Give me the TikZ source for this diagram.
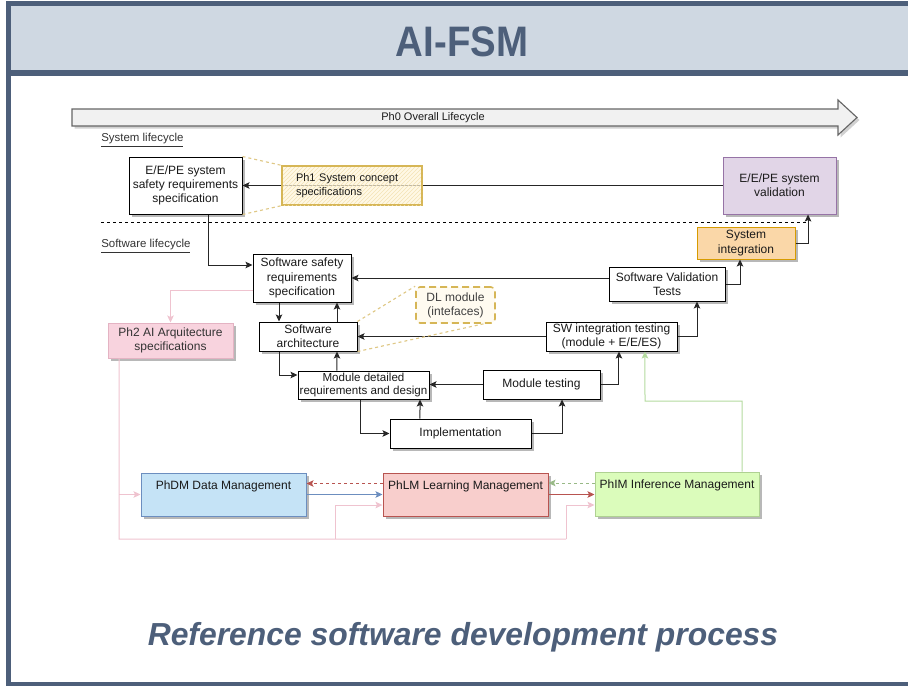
\documentclass[tikz,border=0pt]{standalone}
\usepackage{fontspec}
\usepackage{graphicx}
\setmainfont{Liberation Sans}
\usetikzlibrary{arrows.meta,shadows,patterns,calc}

\newlength\pxu
\setlength\pxu{0.75pt}

\definecolor{slate}{HTML}{4D5F7A}
\definecolor{headfill}{HTML}{CFD8E2}
\definecolor{txt}{HTML}{1A1A1A}
\definecolor{conncol}{HTML}{262626}
\definecolor{sketch}{HTML}{D6B656}
\definecolor{sketchfill}{HTML}{FFF5DA}
\definecolor{sketchhatch}{HTML}{F3E3B5}
\definecolor{guide}{HTML}{DFC886}
\definecolor{valfill}{HTML}{E1D5E7}
\definecolor{valdraw}{HTML}{9673A6}
\definecolor{intfill}{HTML}{FAD7A8}
\definecolor{intdraw}{HTML}{D79B00}
\definecolor{ph2fill}{HTML}{F8D3DE}
\definecolor{ph2draw}{HTML}{E4B3C3}
\definecolor{pinkline}{HTML}{EFC3CF}
\definecolor{dmfill}{HTML}{C5E3F6}
\definecolor{dmdraw}{HTML}{6C8EBF}
\definecolor{lmfill}{HTML}{F8CECC}
\definecolor{lmdraw}{HTML}{B85450}
\definecolor{imfill}{HTML}{DBFCBB}
\definecolor{imdraw}{HTML}{AFD192}
\definecolor{greenline}{HTML}{B3DA9E}
\definecolor{arrowfill}{HTML}{F1F1F1}
\definecolor{arrowdraw}{HTML}{666666}

\newcommand\boxfont{\fontsize{9}{10.6}\selectfont}
\newcommand\smallfont{\fontsize{8.25}{10.4}\selectfont}

\tikzset{
  shadowed/.style={drop shadow={shadow xshift=1.9pt, shadow yshift=-1.9pt, opacity=0.28, fill=black}},
  wh/.style 2 args={minimum width=#1\pxu, minimum height=#2\pxu},
  box/.style={draw=black, fill=white, line width=0.75pt, inner sep=0pt,
    align=center, font=\boxfont, text=txt, shadowed},
  topbox/.style={box, text height=6pt, text depth=14.25pt},
  conn/.style={draw=conncol, line width=0.75pt,
    -{Stealth[length=5.25pt, width=4.9pt, inset=1.1pt]}},
  pinkconn/.style={conn, draw=pinkline},
  sketchbox/.style={draw=sketch, line width=1.05pt, fill=sketchfill, fill opacity=0.7,
    text opacity=1, inner sep=0pt, font=\smallfont, text=txt,
    postaction={pattern=north east lines, pattern color=sketchhatch}},
  dlbox/.style={draw=sketch, line width=1.2pt, dash pattern=on 5.25pt off 3pt,
    rounded corners=3pt, fill=sketchfill!40, inner sep=0pt, align=center,
    font=\boxfont, text=black!75},
  guideline/.style={draw=guide, line width=0.85pt, dash pattern=on 2.25pt off 2.25pt},
  lifelabel/.style={anchor=west, inner sep=0pt, font=\fontsize{8.6}{10}\selectfont, text=black!80}
}

\begin{document}
\begin{tikzpicture}[x=0.75pt, y=-0.75pt]
\useasboundingbox (0,0) rectangle (908,686);

% slide frame and title band
\begin{scope}
  \clip (0,0) rectangle (908,686);
  \fill[headfill] (8.5,3.5) rectangle (930,73);
  \draw[slate, line width=3.75pt] (8.5,3.5) rectangle (930,684.5);
  \draw[slate, line width=4.1pt] (8.5,73) -- (930,73);
\end{scope}
\node[font=\bfseries\fontsize{32}{32}\selectfont, text=slate, inner sep=0pt] (title) at (462,42)
  {\scalebox{0.9}[1]{AI-FSM}};
\node[font=\bfseries\itshape\fontsize{23.9}{24}\selectfont, text=slate, inner sep=0pt] (caption) at (463,637)
  {Reference software development process};

% overall lifecycle arrow
\fill[black, opacity=0.18] (74.5,111.5) -- (840.5,111.5) -- (840.5,102.5) -- (859.5,120) -- (840.5,137.5) -- (840.5,128.5) -- (74.5,128.5) -- cycle;
\draw[draw=arrowdraw, fill=arrowfill, line width=0.85pt]
  (72,109) -- (838,109) -- (838,100) -- (857,117.5) -- (838,135) -- (838,126) -- (72,126) -- cycle;
\node[font=\smallfont, text=txt, inner sep=0pt] (ph0) at (433,117.5) {Ph0 Overall Lifecycle};

% lifecycle labels and separator
\node[lifelabel] (syslife) at (101,140) {\underline{System lifecycle}};
\node[lifelabel] (swlife) at (101,246) {\underline{Software lifecycle}};
\coordinate (sepl) at (101,222);
\coordinate (sepr) at (808,222);
\draw[black, line width=0.75pt, dash pattern=on 2.6pt off 1.9pt] (sepl) -- (sepr);

% system level boxes
\node[box, wh={113}{57}] (sysreq) at (185.5,185.5) {E/E/PE system\\safety requirements\\specification};
\node[box, wh={113}{57}, fill=valfill, draw=valdraw] (sysval) at (779.5,185.5) {E/E/PE system\\validation};
\node[box, wh={98}{32}, fill=intfill, draw=intdraw] (sysint) at (746,243) {System\\integration};

% software V-model boxes
\node[box, wh={116}{34}] (svt) at (667,284) {Software Validation\\Tests};
\node[box, wh={98}{48}] (ssr) at (302,278) {Software safety\\requirements\\specification};
\node[box, wh={98}{29}] (sa) at (308,336.5) {Software\\architecture};
\node[box, wh={131}{29}] (swit) at (611.5,336.5) {SW integration testing\\(module + E/E/ES)};
\node[box, wh={131}{28}, font=\fontsize{8.7}{10.4}\selectfont] (mdrd) at (363.5,385) {Module detailed\\requirements and design};
\node[box, wh={117}{29}] (mt) at (541.5,384.5) {Module testing};
\node[box, wh={141}{29}] (impl) at (460.5,433.5) {Implementation};

% AI phase boxes
\node[box, wh={125}{35}, fill=ph2fill, draw=ph2draw, text=black!80] (ph2) at (170.5,340.5) {Ph2 AI Arquitecture\\specifications};
\node[topbox, wh={165}{43}, fill=dmfill, draw=dmdraw] (phdm) at (223.5,494.5) {PhDM Data Management};
\node[topbox, wh={165}{43}, fill=lmfill, draw=lmdraw] (phlm) at (465.5,494.5) {PhLM Learning Management};
\node[topbox, wh={164}{44}, fill=imfill, draw=imdraw] (phim) at (677,494) {PhIM Inference Management};

% system level connectors
\draw[conn] (sysval.west) -- (sysreq.east);
\draw[conn] ([xshift=17.6pt]sysreq.south) |- ([yshift=9.75pt]ssr.west);
\draw[conn] (sysint.east) -| ([xshift=21.4pt]sysval.south);
\draw[conn] (svt.east) -| ([xshift=-4.5pt]sysint.south);

% concept note over the requirement line
\node[sketchbox, wh={140}{39}, text width=84pt, align=left] (ph1) at (352,185.5) {Ph1 System concept\\specifications};
\draw[draw=sketch, line width=0.6pt] ([shift={(1.1pt,-0.9pt)}]ph1.north west) rectangle ([shift={(-0.9pt,1.1pt)}]ph1.south east);
\draw[guideline] (sysreq.north east) -- (ph1.north west);
\draw[guideline] (sysreq.south east) -- (ph1.south west);

% software V-model connectors
\draw[conn] ([yshift=4.5pt]svt.west) -- (ssr.east);
\draw[conn] ([xshift=-17.25pt]ssr.south) -- ([xshift=-21.75pt]sa.north);
\draw[conn] ([xshift=21.75pt]sa.north) -- ([xshift=26.25pt]ssr.south);
\draw[conn] (swit.west) -- (sa.east);
\draw[conn] ([xshift=-21.75pt]sa.south) |- ([yshift=7.5pt]mdrd.west);
\draw[conn] ([xshift=-19.9pt]mdrd.north) -- ([xshift=21.75pt]sa.south);
\draw[conn] (mt.west) -- (mt.west -| mdrd.east);
\draw[conn] (mt.east) -| ([xshift=5.6pt]swit.south);
\draw[conn] (swit.east) -| ([xshift=22.5pt]svt.south);
\draw[conn] ([xshift=-1.9pt]mdrd.south) |- (impl.west);
\draw[conn] ([xshift=-30.4pt]impl.north) -- ([xshift=42.4pt]mdrd.south);
\draw[conn] (impl.east) -| ([xshift=15.4pt]mt.south);

% interface note on the architecture
\node[dlbox, wh={79}{36}] (dl) at (455.5,305) {DL module\\(intefaces)};
\draw[guideline] (sa.north east) -- (dl.north west);
\draw[guideline] (sa.south east) -- ([xshift=-9pt]dl.south east);

% AI architecture flow
\draw[pinkconn] ([yshift=-9pt]ssr.west) -| (ph2.north);
\coordinate (pl) at (119,539);
\coordinate (pm) at (335,539);
\coordinate (pr) at (566,539);
\draw[draw=pinkline, line width=0.75pt] ([xshift=-38.6pt]ph2.south) -- (pl) -- (pr);
\draw[pinkconn] (pl |- phdm.west) -- (phdm.west);
\draw[pinkconn] (pm) |- ([yshift=-7.9pt]phlm.west);
\draw[pinkconn] (pr) |- ([yshift=-8.25pt]phim.west);

\draw[conn, draw=dmdraw] (phdm.east) -- (phlm.west);
\draw[conn, draw=lmdraw, dash pattern=on 2.25pt off 2.25pt] ([yshift=8.25pt]phlm.west) -- ([yshift=8.25pt]phdm.east);
\draw[conn, draw=lmdraw] (phlm.east) -- (phlm.east -| phim.west);
\draw[conn, draw=greenline!85!black, dash pattern=on 2.25pt off 2.25pt] ([yshift=8.25pt]phim.west) -- ([yshift=8.25pt]phim.west -| phlm.east);
\coordinate (gturn) at (645,401);
\draw[conn, draw=greenline] ([xshift=48.75pt]phim.north) |- (gturn) -- ([xshift=25.1pt]swit.south);

\end{tikzpicture}
\end{document}
